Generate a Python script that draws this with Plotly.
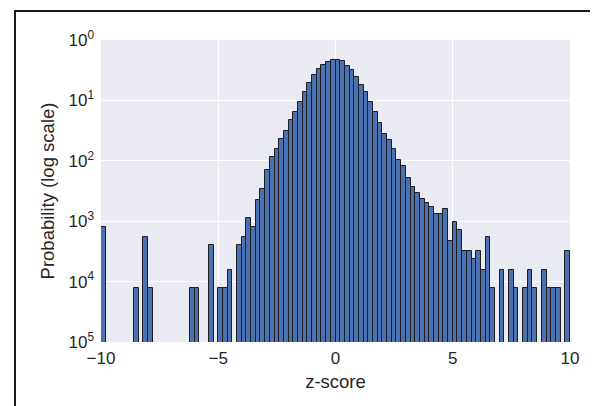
import numpy as np
import plotly.graph_objects as go

# Histogram: 100 bins of width 0.2 between -10 and 10 (density, log scale)
bin_start = -10.0
bin_width = 0.2
density = [
    7.94e-4, None, None, None, None, None, None, 7.94e-5, None, 5.50e-4,   # -10 .. -8
    7.94e-5, None, None, None, None, None, None, None, None, 7.94e-5,      # -8 .. -6
    7.94e-5, None, None, 3.98e-4, None, 7.94e-5, 7.94e-5, 1.58e-4, None, 3.98e-4,  # -6 .. -4
    5.50e-4, 1.12e-3, 7.94e-4, 2.24e-3, 3.47e-3, 6.92e-3, 1.17e-2, 1.58e-2, 2.29e-2, 3.16e-2,  # -4 .. -2
    4.68e-2, 6.46e-2, 9.55e-2, 0.139, 0.192, 0.260, 0.327, 0.391, 0.438, 0.472,  # -2 .. 0
    0.467, 0.449, 0.376, 0.318, 0.241, 0.180, 0.136, 0.0933, 0.0646, 0.0427,  # 0 .. 2
    0.0275, 0.0219, 0.0155, 0.0105, 0.00813, 0.00525, 0.00363, 0.00295, 0.00229, 0.00204,  # 2 .. 4
    0.00174, 0.00132, 0.00132, 0.00158, 4.79e-4, 9.55e-4, 7.08e-4, 3.16e-4, 3.16e-4, 2.34e-4,  # 4 .. 6
    3.16e-4, 1.58e-4, 5.50e-4, 7.94e-5, None, 1.58e-4, None, 1.58e-4, 7.94e-5, None,  # 6 .. 8
    7.94e-5, 1.58e-4, 7.94e-5, None, 1.58e-4, 7.94e-5, 7.94e-5, 7.94e-5, None, 3.16e-4,  # 8 .. 10
]
bin_centers = bin_start + bin_width * (np.arange(len(density)) + 0.5)

x_tickvals = [-10, -5, 0, 5, 10]
x_ticktext = ["\u221210", "\u22125", "0", "5", "10"]
y_tickvals = [1, 1e-1, 1e-2, 1e-3, 1e-4, 1e-5]
y_ticktext = ["10<sup>0</sup>", "10<sup>1</sup>", "10<sup>2</sup>",
              "10<sup>3</sup>", "10<sup>4</sup>", "10<sup>5</sup>"]

fig = go.Figure()
fig.add_trace(go.Bar(
    x=bin_centers, y=density, width=bin_width,
    marker=dict(color="#4a72b3", line=dict(color="#1e1e1e", width=1)),
    showlegend=False,
))

font_family = "Liberation Sans, Arial, sans-serif"
# the page body has an 8px margin, so the figure is offset by (8, 8)
fig.update_layout(
    width=590, height=398,
    margin=dict(l=93, r=28, t=32, b=64),
    paper_bgcolor="white", plot_bgcolor="#eaeaf2",
    bargap=0,
    font=dict(family=font_family, size=17, color="#262626"),
    xaxis=dict(
        range=[-10, 10], tickvals=x_tickvals, ticktext=x_ticktext,
        showgrid=True, gridcolor="white", gridwidth=1, zeroline=False,
        showline=False, ticks="", ticklen=0, ticklabelstandoff=4,
        title=dict(text="z-score", font=dict(size=18.5), standoff=8),
        tickfont=dict(size=17),
    ),
    yaxis=dict(
        type="log", range=[-5, 0], tickvals=y_tickvals, ticktext=y_ticktext,
        showgrid=True, gridcolor="white", gridwidth=1, zeroline=False,
        showline=False, ticks="", ticklen=0, ticklabelstandoff=6,
        title=dict(text="Probability (log scale)", font=dict(size=18.5), standoff=8),
        tickfont=dict(size=17),
    ),
    shapes=[dict(
        type="rect", xref="paper", yref="paper",
        x0=-0.1834, x1=1.2, y0=-0.3, y1=1.0960,
        line=dict(color="#1a1a1a", width=2), fillcolor="rgba(0,0,0,0)",
        layer="above",
    )],
)

fig.write_html("out.html")
